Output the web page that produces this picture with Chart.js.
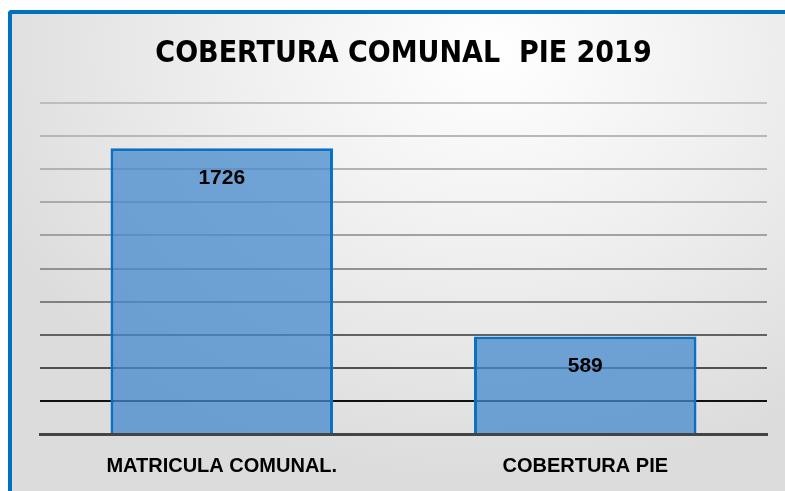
<!DOCTYPE html>
<html>
<head>
<meta charset="utf-8">
<script src="https://cdn.jsdelivr.net/npm/chart.js@4.4.1/dist/chart.umd.min.js"></script>
<style>
  html, body { margin: 0; padding: 0; background: #fff; overflow: hidden; width: 785px; height: 491px; }
  #frame {
    position: absolute; left: 8px; top: 10px; width: 777px; height: 481px;
    border-left: 4px solid #0070c0; border-top: 4px solid #0070c0;
    border-top-left-radius: 4px; box-sizing: border-box;
    background: radial-gradient(ellipse 70% 90% at 62% 8%, #ffffff 0%, #f0f0f0 45%, #dcdcdc 100%);
  }
  #wrap { position: absolute; left: 0; top: 0; width: 785px; height: 491px; }
</style>
</head>
<body>
<div id="frame"></div>
<div id="wrap"><canvas id="myChart"></canvas></div>
<script>
const labels = ['MATRICULA COMUNAL.', 'COBERTURA PIE'];
var dataArray = [1726, 589];
var title = 'COBERTURA COMUNAL  PIE 2019';

// gridline shades, from 0 up to 2000
var gridShades = ['rgba(0,0,0,0)', '#111111', '#505050', '#626262', '#808080', '#929292',
                  '#a2a2a2', '#aaaaaa', '#b2b2b2', '#b8b8b8', '#bdbdbd'];

const barLabels = {
    id: 'barLabels',
    afterDatasetsDraw(chart) {
        const ctx = chart.ctx;
        const meta = chart.getDatasetMeta(0);
        ctx.save();
        ctx.font = 'bold 21px "Liberation Sans"';
        ctx.fillStyle = '#000';
        ctx.textAlign = 'center';
        ctx.textBaseline = 'middle';
        meta.data.forEach((bar, i) => {
            ctx.fillText(dataArray[i], bar.x, bar.y + 30);
        });
        ctx.restore();
    }
};

const data = {
    labels: labels,
    datasets: [{
        data: dataArray,
        backgroundColor: 'rgba(68,136,204,0.75)',
        borderColor: '#0a70c4',
        borderWidth: 3,
        barPercentage: 0.612,
        categoryPercentage: 1
    }]
};

const config = {
    type: 'bar',
    data: data,
    options: {
        responsive: true,
        maintainAspectRatio: false,
        animation: false,
        layout: { padding: { left: 40, right: 18, top: 14, bottom: 1 } },
        plugins: {
            legend: { display: false },
            tooltip: { enabled: false },
            title: {
                display: true,
                text: title,
                color: '#000',
                font: { family: '"DejaVu Sans Condensed", "DejaVu Sans"', size: 30, weight: 'bold' },
                padding: { top: 22, bottom: 31 }
            }
        },
        scales: {
            x: {
                grid: { display: false },
                border: { display: true, color: '#444444', width: 3 },
                ticks: {
                    color: '#000',
                    padding: 12,
                    font: { family: '"Liberation Sans"', size: 20, weight: 'bold' }
                }
            },
            y: {
                min: 0,
                max: 2000,
                ticks: { display: false, stepSize: 200 },
                border: { display: false },
                grid: {
                    drawTicks: false,
                    lineWidth: 2,
                    color: (c) => gridShades[Math.round(c.tick.value / 200)]
                }
            }
        }
    },
    plugins: [barLabels]
};

var myChart = new Chart(document.getElementById('myChart'), config);
</script>
</body>
</html>
